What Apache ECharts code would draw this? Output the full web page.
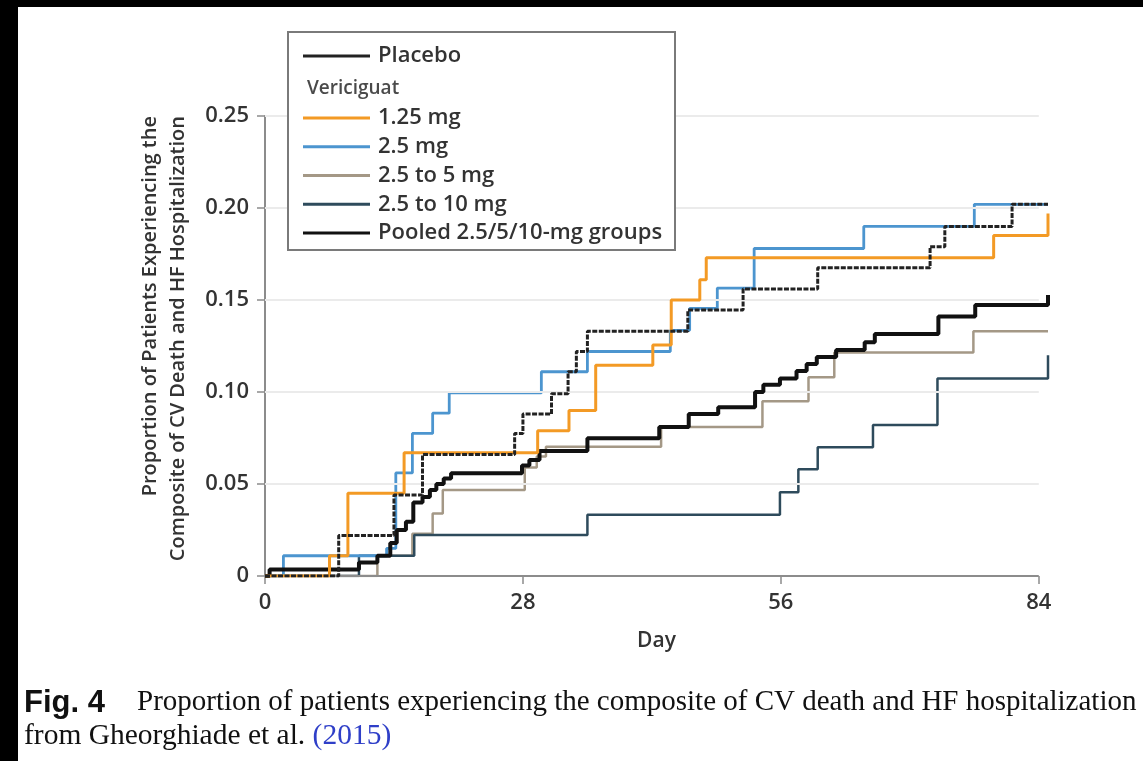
<!DOCTYPE html>
<html>
<head>
<meta charset="utf-8">
<script src="https://cdn.jsdelivr.net/npm/echarts@6/dist/echarts.min.js"></script>
<style>
  html, body { margin: 0; padding: 0; background: #fff; }
  #chart { width: 1143px; height: 761px; }
</style>
</head>
<body>
<div id="chart"></div>
<script>
// Cumulative proportion with CV death or HF hospitalization, [day, proportion] at each event step
const placebo = [[0, 0], [8, 0.022], [14, 0.044], [17.1, 0.066], [27.1, 0.0775], [28, 0.088], [31.1, 0.099], [32.9, 0.111], [33.8, 0.122], [35, 0.133], [45.9, 0.1445], [51.9, 0.156], [60, 0.1675], [72.2, 0.179], [73.8, 0.19], [81.1, 0.202], [85, 0.202]];
const dose125 = [[0, 0], [7, 0.011], [9, 0.045], [15.1, 0.067], [29.6, 0.079], [33, 0.09], [35.9, 0.1145], [42.1, 0.1255], [44.1, 0.15], [47.2, 0.161], [47.9, 0.173], [79.1, 0.185], [85, 0.185], [85, 0.197]];
const dose25 = [[0, 0], [2, 0.011], [13.2, 0.015], [14.2, 0.056], [16, 0.0775], [18.2, 0.0885], [20, 0.0995], [30, 0.111], [35, 0.122], [44, 0.1335], [46.1, 0.1455], [49.1, 0.1565], [53.1, 0.178], [65, 0.19], [77, 0.202], [85, 0.202]];
const dose25to5 = [[0, 0], [12.2, 0.011], [16, 0.023], [18.2, 0.034], [19.3, 0.0467], [28.2, 0.059], [29.5, 0.065], [30.5, 0.0703], [43, 0.081], [54, 0.095], [59, 0.108], [61.8, 0.1214], [76.9, 0.133], [85, 0.133]];
const dose25to10 = [[0, 0], [10.2, 0.011], [16.2, 0.0223], [35, 0.0333], [55.9, 0.0455], [57.9, 0.058], [60, 0.07], [66, 0.082], [73, 0.1074], [85, 0.1074], [85, 0.12]];
const pooled = [[0, 0], [0.5, 0.0036], [10.2, 0.0073], [12.2, 0.011], [13.6, 0.018], [14.3, 0.025], [15.3, 0.0295], [16.1, 0.04], [17.1, 0.043], [17.9, 0.0467], [18.6, 0.05], [19.4, 0.053], [20.2, 0.0558], [27.9, 0.06], [28.7, 0.063], [29.8, 0.068], [35, 0.0748], [42.8, 0.081], [46, 0.088], [49.2, 0.0917], [53.2, 0.1], [54.1, 0.104], [55.9, 0.1074], [57.7, 0.1114], [58.8, 0.1152], [59.9, 0.119], [62, 0.1228], [65.1, 0.127], [66.2, 0.1315], [73.1, 0.141], [77.1, 0.1473], [85, 0.1473], [85, 0.1527]];

const seriesNames = ['Placebo', '1.25 mg', '2.5 mg', '2.5 to 5 mg', '2.5 to 10 mg', 'Pooled 2.5/5/10-mg groups'];
const xTicks = [0, 28, 56, 84];
const yTicks = [0, 0.05, 0.10, 0.15, 0.20, 0.25];
const followUpEnd = 85; // curves run one day past the last labelled tick

const FONT = 'Open Sans';
const TEXT = '#333';
const AXIS = '#8c8c8c';
const xLast = xTicks[xTicks.length - 1];

function km(name, data, color, width, type, z) {
  return {
    type: 'line', name, data, step: 'end', symbol: 'none', showSymbol: false,
    animation: false, z,
    lineStyle: { color, width, type: type || 'solid' },
    itemStyle: { color }
  };
}

// Day axis baseline and horizontal grid lines, both stopping at the last tick
const frameLines = [[{ coord: [0, 0], lineStyle: { color: AXIS, width: 2, type: 'solid' } }, { coord: [xLast, 0] }]]
  .concat(yTicks.slice(1).map(y => [
    { coord: [0, y], lineStyle: { color: '#ebebeb', width: 2, type: 'solid' } }, { coord: [xLast, y] }
  ]));

const chart = echarts.init(document.getElementById('chart'), null, { renderer: 'canvas' });
chart.setOption({
  backgroundColor: '#fff',
  animation: false,
  grid: { left: 265, right: 95, top: 116, bottom: 185, containLabel: false },
  xAxis: {
    type: 'value', min: 0, max: followUpEnd,
    name: 'Day', nameLocation: 'middle', nameGap: 55,
    nameTextStyle: { fontFamily: FONT, fontWeight: 600, fontSize: 21, color: TEXT },
    axisLine: { show: false },
    axisTick: { show: true, length: 8, lineStyle: { color: AXIS, width: 1.5 }, customValues: xTicks },
    axisLabel: { fontFamily: FONT, fontWeight: 600, fontSize: 22, color: TEXT, margin: 16, customValues: xTicks },
    splitLine: { show: false }
  },
  yAxis: {
    type: 'value', min: yTicks[0], max: yTicks[yTicks.length - 1], interval: 0.05,
    axisLine: { show: true, lineStyle: { color: AXIS, width: 2 } },
    axisTick: { show: true, length: 8, lineStyle: { color: AXIS, width: 1.5 } },
    axisLabel: {
      fontFamily: FONT, fontWeight: 600, fontSize: 22, color: TEXT, margin: 16,
      formatter: v => (v === 0 ? '0' : v.toFixed(2))
    },
    splitLine: { show: false }
  },
  legend: [
    {
      data: [seriesNames[0]], orient: 'vertical', left: 303, top: 45,
      icon: 'rect', itemWidth: 67, itemHeight: 3, padding: 0, z: 20,
      textStyle: { fontFamily: FONT, fontWeight: 600, fontSize: 22, lineHeight: 22, color: TEXT, padding: [0, 0, 0, 3] }
    },
    {
      data: seriesNames.slice(1), orient: 'vertical', left: 303, top: 107,
      icon: 'rect', itemWidth: 67, itemHeight: 3, itemGap: 6.75, padding: 0, z: 20,
      textStyle: { fontFamily: FONT, fontWeight: 600, fontSize: 22, lineHeight: 22, color: TEXT, padding: [0, 0, 0, 3] }
    }
  ],
  graphic: [
    // vertical axis title, two lines read bottom-to-top and ending level at the top
    { type: 'text', z: 21, x: 164, y: 116, rotation: Math.PI / 2,
      style: {
        text: 'Proportion of Patients Experiencing the\nComposite of CV Death and HF Hospitalization',
        font: `600 20px "${FONT}"`, lineHeight: 28, fill: TEXT, align: 'right', verticalAlign: 'middle'
      } },
    // legend frame
    { type: 'rect', z: 10, shape: { x: 288, y: 32, width: 387, height: 218 },
      style: { fill: '#fff', stroke: '#7a7a7a', lineWidth: 2 } },
    { type: 'text', z: 21, left: 307, top: 79,
      style: { text: 'Vericiguat', font: `600 19px "${FONT}"`, fill: '#4a4a4a' } },
    // caption
    { type: 'text', z: 21, left: 24, top: 688,
      style: { text: 'Fig. 4', font: 'bold 31px "Liberation Sans"', fill: '#111' } },
    { type: 'text', z: 21, left: 137, top: 688,
      style: { text: 'Proportion of patients experiencing the composite of CV death and HF hospitalization',
               font: '29px "Liberation Serif"', fill: '#111' } },
    { type: 'text', z: 21, left: 24, top: 721,
      style: {
        text: '{s|from Gheorghiade et al. }{l|(2015)}',
        rich: {
          s: { fontFamily: 'Liberation Serif', fontSize: 29.5, fill: '#111' },
          l: { fontFamily: 'Liberation Serif', fontSize: 29.5, fill: '#2f3fc8' }
        }
      } },
    // dark frame strips
    { type: 'rect', z: 30, shape: { x: 0, y: 0, width: 1143, height: 7 }, style: { fill: '#000' } },
    { type: 'rect', z: 30, shape: { x: 0, y: 0, width: 18, height: 761 }, style: { fill: '#000' } }
  ],
  series: [
    {
      type: 'line', name: 'frame', data: [], silent: true, z: 1,
      markLine: { silent: true, symbol: 'none', label: { show: false }, animation: false,
        lineStyle: { type: 'solid' }, data: frameLines }
    },
    km(seriesNames[3], dose25to5, '#a49886', 2.5, null, 2),
    km(seriesNames[4], dose25to10, '#2e4b5c', 2.5, null, 3),
    km(seriesNames[2], dose25, '#4c95cf', 2.8, null, 4),
    km(seriesNames[5], pooled, '#111111', 4, null, 5),
    km(seriesNames[1], dose125, '#f39a25', 3, null, 6),
    km(seriesNames[0], placebo, '#222222', 3, [5, 1.5], 7)
  ]
});
</script>
</body>
</html>
